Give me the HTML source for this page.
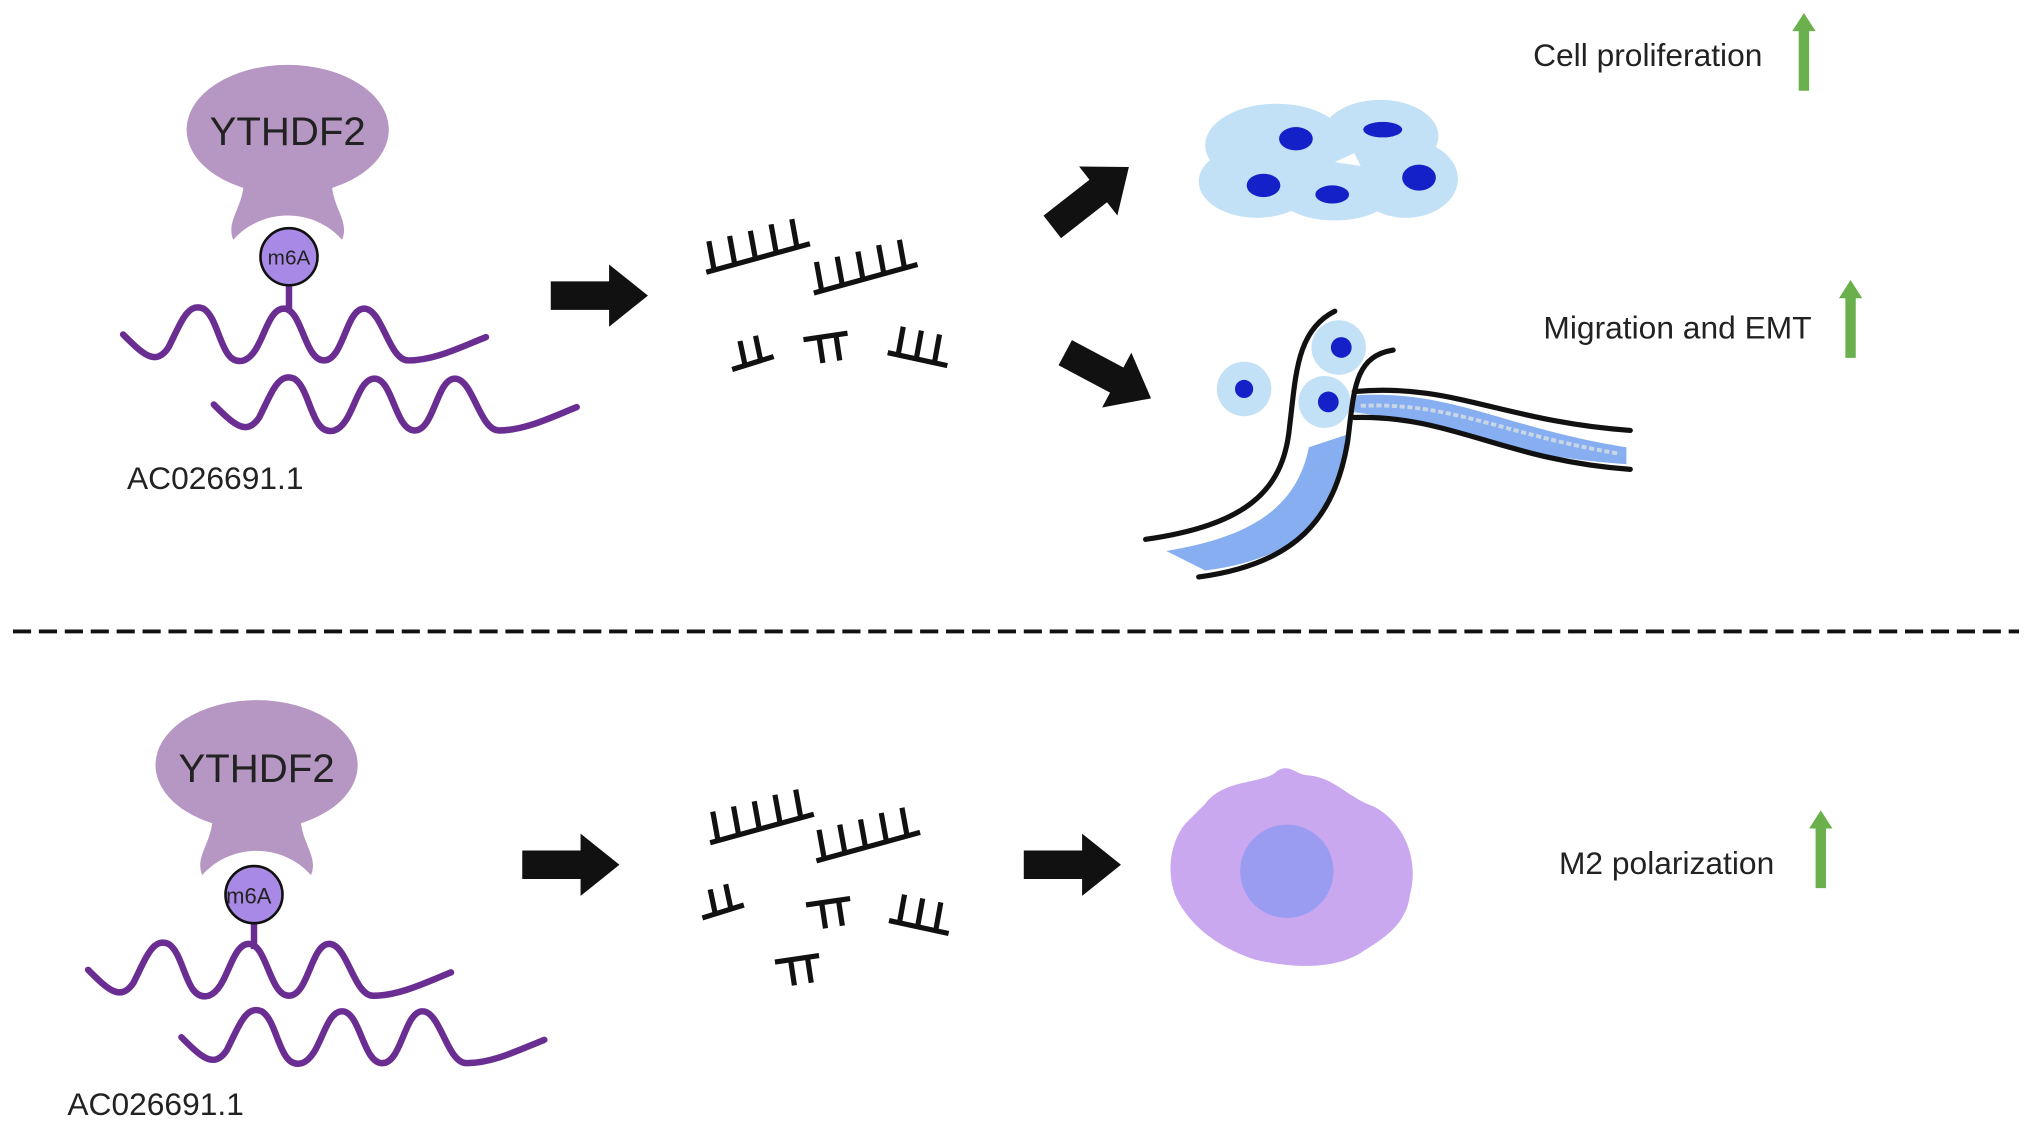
<!DOCTYPE html>
<html><head><meta charset="utf-8"><style>
html,body{margin:0;padding:0;background:#fff;width:2032px;height:1128px;overflow:hidden}
svg{display:block}
text{font-family:"Liberation Sans",sans-serif}
</style></head><body>
<svg width="2032" height="1128" viewBox="0 0 1568 870" preserveAspectRatio="none" xmlns="http://www.w3.org/2000/svg">
<defs>
<g id="bigarrow"><path d="M0,-11 L45,-11 L45,-24 L75,0 L45,24 L45,11 L0,11 Z" fill="#111"/></g>
<g id="greenup"><path d="M-4,0 L-4,-46 L-9,-46 L0,-60 L9,-46 L4,-46 L4,0 Z" fill="#6ab04c"/></g>
<g id="comb5" stroke="#111" stroke-width="4" fill="none">
<path d="M0,0 L80,-22"/><path d="M6,-2 L2,-24 M22,-6 L18,-28 M38,-10 L34,-32 M54,-15 L50,-37 M70,-19 L66,-41"/></g>
<g id="comb3" stroke="#111" stroke-width="4" fill="none">
<path d="M0,0 L46,10"/><path d="M8,2 L12,-20 M22,5 L26,-17 M36,8 L40,-14"/></g>
<g id="comb2" stroke="#111" stroke-width="4" fill="none">
<path d="M0,0 L32,-10"/><path d="M10,-3 L6,-22 M22,-7 L18,-26"/></g>
<g id="comb2d" stroke="#111" stroke-width="4" fill="none">
<path d="M0,0 L34,-5"/><path d="M12,-2 L15,18 M25,-4 L28,16"/></g>
<g id="ythdf">
<ellipse cx="0" cy="0" rx="78" ry="50" fill="#b696c2"/>
<path d="M-34,40 C-34,60 -48,70 -42,85 C-20,60 20,60 42,85 C48,70 34,60 34,40 Z" fill="#b696c2"/>
</g>
<g id="wave" fill="none" stroke="#6a2d91" stroke-width="5" stroke-linecap="round">
<path d="M0,0 C15,15 25,25 35,10 C45,-10 50,-25 62,-20 C75,-12 75,25 93,20 C108,15 110,-20 124,-20 C138,-20 140,20 155,20 C170,20 172,-20 186,-20 C200,-20 205,20 220,20 C240,20 260,10 280,2"/>
</g>
</defs>

<use href="#ythdf" x="222" y="100"/>
<text x="222" y="112" font-size="31" text-anchor="middle" fill="#222">YTHDF2</text>
<line x1="223" y1="215" x2="223" y2="240" stroke="#6a2d91" stroke-width="5"/>
<circle cx="223" cy="198" r="22" fill="#a88ae6" stroke="#111" stroke-width="2"/>
<text x="223" y="204" font-size="16" text-anchor="middle" fill="#222">m6A</text>
<use href="#wave" x="95" y="258"/>
<use href="#wave" x="165" y="312"/>
<text x="98" y="377" font-size="24.5" fill="#222">AC026691.1</text>

<use href="#bigarrow" x="425" y="228"/>
<use href="#comb5" x="545" y="210"/>
<use href="#comb5" x="628" y="226"/>
<use href="#comb2" x="565" y="285"/>
<use href="#comb2d" x="620" y="262"/>
<use href="#comb3" x="685" y="272"/>

<g transform="translate(812,175) rotate(-38)"><use href="#bigarrow"/></g>
<g transform="translate(822,272) rotate(28)"><use href="#bigarrow"/></g>

<g fill="#c2e0f6">
<ellipse cx="985" cy="112" rx="55" ry="32"/>
<ellipse cx="1065" cy="105" rx="45" ry="28"/>
<ellipse cx="1085" cy="138" rx="40" ry="30"/>
<ellipse cx="970" cy="140" rx="45" ry="28"/>
<ellipse cx="1030" cy="148" rx="45" ry="22"/>
</g>
<path d="M1030,125 L1045,118 L1050,128 Z" fill="#fff"/>
<g fill="#1420c8">
<ellipse cx="1000" cy="107" rx="13" ry="9"/>
<ellipse cx="1067" cy="100" rx="15" ry="6"/>
<ellipse cx="975" cy="143" rx="13" ry="9"/>
<ellipse cx="1028" cy="150" rx="13" ry="7"/>
<ellipse cx="1095" cy="137" rx="13" ry="10"/>
</g>

<path d="M900,425 C960,415 1000,395 1010,345 L1040,335 C1035,390 1010,430 930,440 Z" fill="#86aef0"/>
<path d="M1045,305 C1120,300 1160,330 1255,345 L1255,358 C1160,352 1120,328 1045,318 Z" fill="#86aef0"/>
<path d="M1050,313 C1120,310 1160,335 1250,350" stroke="#c9d6e6" stroke-width="3" fill="none" stroke-dasharray="4,2"/>
<circle cx="960" cy="300" r="21" fill="#c2e0f6"/>
<circle cx="1033" cy="268" r="21" fill="#c2e0f6"/>
<circle cx="1022" cy="310" r="20" fill="#c2e0f6"/>
<circle cx="960" cy="300" r="7" fill="#1420c8"/>
<circle cx="1035" cy="268" r="8" fill="#1420c8"/>
<circle cx="1025" cy="310" r="8" fill="#1420c8"/>
<g fill="none" stroke="#111" stroke-width="4" stroke-linecap="round">
<path d="M884,416 C960,405 990,380 995,330 C1000,290 1000,255 1030,240"/>
<path d="M925,445 C1000,435 1030,400 1040,340 C1045,300 1045,275 1075,270"/>
<path d="M1045,302 C1120,295 1160,325 1258,332"/>
<path d="M1045,322 C1120,320 1160,355 1258,362"/>
</g>

<text x="1183" y="51" font-size="24.5" fill="#222">Cell proliferation</text>
<use href="#greenup" x="1392" y="70"/>
<text x="1191" y="261" font-size="24.5" fill="#222">Migration and EMT</text>
<use href="#greenup" x="1428" y="276"/>

<line x1="10" y1="487" x2="1558" y2="487" stroke="#111" stroke-width="3" stroke-dasharray="14,6"/>

<use href="#ythdf" x="198" y="590"/>
<text x="198" y="603" font-size="31" text-anchor="middle" fill="#222">YTHDF2</text>
<line x1="196" y1="707" x2="196" y2="732" stroke="#6a2d91" stroke-width="5"/>
<circle cx="196" cy="690" r="22" fill="#a88ae6" stroke="#111" stroke-width="2"/>
<text x="192" y="697" font-size="17" text-anchor="middle" fill="#222">m6A</text>
<use href="#wave" x="68" y="748"/>
<use href="#wave" x="140" y="800"/>
<text x="52" y="860" font-size="24.5" fill="#222">AC026691.1</text>

<use href="#bigarrow" x="403" y="667"/>
<use href="#comb5" x="548" y="650"/>
<use href="#comb5" x="630" y="664"/>
<use href="#comb2" x="542" y="708"/>
<use href="#comb2d" x="622" y="698"/>
<use href="#comb3" x="686" y="710"/>
<use href="#comb2d" x="598" y="742"/>
<use href="#bigarrow" x="790" y="667"/>

<path d="M930,620 C945,600 975,605 985,595 C995,588 1000,598 1010,598 C1030,600 1040,615 1060,622 C1085,635 1095,665 1088,690 C1085,715 1065,725 1050,735 C1025,750 990,745 968,740 C945,732 925,720 912,700 C898,680 902,650 915,635 Z" fill="#c9a8f0"/>
<circle cx="993" cy="672" r="36" fill="#9a9cf2"/>

<text x="1203" y="674" font-size="24.5" fill="#222">M2 polarization</text>
<use href="#greenup" x="1405" y="685"/>
</svg>
</body></html>
